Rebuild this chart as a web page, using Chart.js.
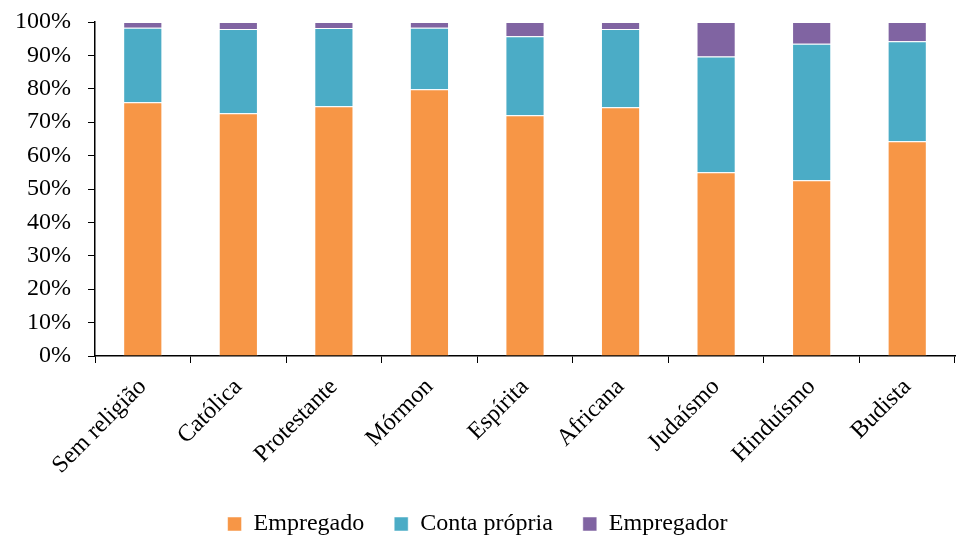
<!DOCTYPE html>
<html>
<head>
<meta charset="utf-8">
<script src="https://cdn.jsdelivr.net/npm/chart.js@4"></script>
<style>
  html, body { margin: 0; padding: 0; background: #fff; }
  #wrap { width: 956px; height: 536px; }
</style>
</head>
<body>
<div id="wrap"><canvas id="chart"></canvas></div>
<script>
const categories = ["Sem religião", "Católica", "Protestante", "Mórmon", "Espírita", "Africana", "Judaísmo", "Hinduísmo", "Budista"];
const empregado = [76.0, 72.7, 74.8, 79.9, 72.1, 74.5, 55.0, 52.6, 64.3];
const contaPropria = [22.3, 25.2, 23.4, 18.4, 23.6, 23.4, 34.7, 40.9, 29.9];
const empregador = [1.7, 2.1, 1.8, 1.7, 4.3, 2.1, 10.3, 6.5, 5.8];
const yTicks = [0, 10, 20, 30, 40, 50, 60, 70, 80, 90, 100];

const fontFamily = "'Liberation Serif', 'DejaVu Serif', serif";
const fontSize = 24;

function makeSet(label, data, color) {
    return {
        label: label,
        data: data,
        backgroundColor: color,
        borderColor: "rgba(255,255,255,0.5)",
        borderWidth: 1,
        barPercentage: 0.41,
        categoryPercentage: 1.0,
    };
}

const config = {
    type: "bar",
    data: {
        labels: categories,
        datasets: [
            makeSet("Empregado", empregado, "#F79646"),
            makeSet("Conta própria", contaPropria, "#4BACC6"),
            makeSet("Empregador", empregador, "#8064A2"),
        ],
    },
    options: {
        responsive: true,
        maintainAspectRatio: false,
        animation: false,
        layout: { padding: { left: 0, right: 1, top: 0, bottom: -10 } },
        plugins: {
            legend: {
                position: "bottom",
                labels: {
                    font: { family: fontFamily, size: fontSize },
                    color: "#000",
                    boxWidth: 14,
                    boxHeight: 14,
                    padding: 30,
                },
            },
            tooltip: { enabled: false },
        },
        scales: {
            x: {
                stacked: true,
                border: { color: "#000", width: 1.5 },
                grid: { drawOnChartArea: false, color: "#000", tickLength: 7, offset: true },
                ticks: {
                    font: { family: fontFamily, size: fontSize },
                    color: "#000",
                    minRotation: 45,
                    maxRotation: 45,
                    padding: 10,
                },
                afterFit: (axis) => { axis.height = 126; },
            },
            y: {
                stacked: true,
                min: 0,
                max: 100,
                border: { color: "#000", width: 1.5 },
                grid: { drawOnChartArea: false, color: "#000", tickLength: 7 },
                afterBuildTicks: (axis) => { axis.ticks = yTicks.map(v => ({ value: v })); },
                ticks: {
                    font: { family: fontFamily, size: fontSize },
                    color: "#000",
                    padding: 17,
                    callback: (v) => v + "%",
                },
                afterFit: (axis) => {
                    axis.width = 95;
                    axis.paddingTop = 22;
                    axis.paddingBottom = 0;
                },
            },
        },
    },
};

new Chart(document.getElementById("chart"), config);
</script>
</body>
</html>
